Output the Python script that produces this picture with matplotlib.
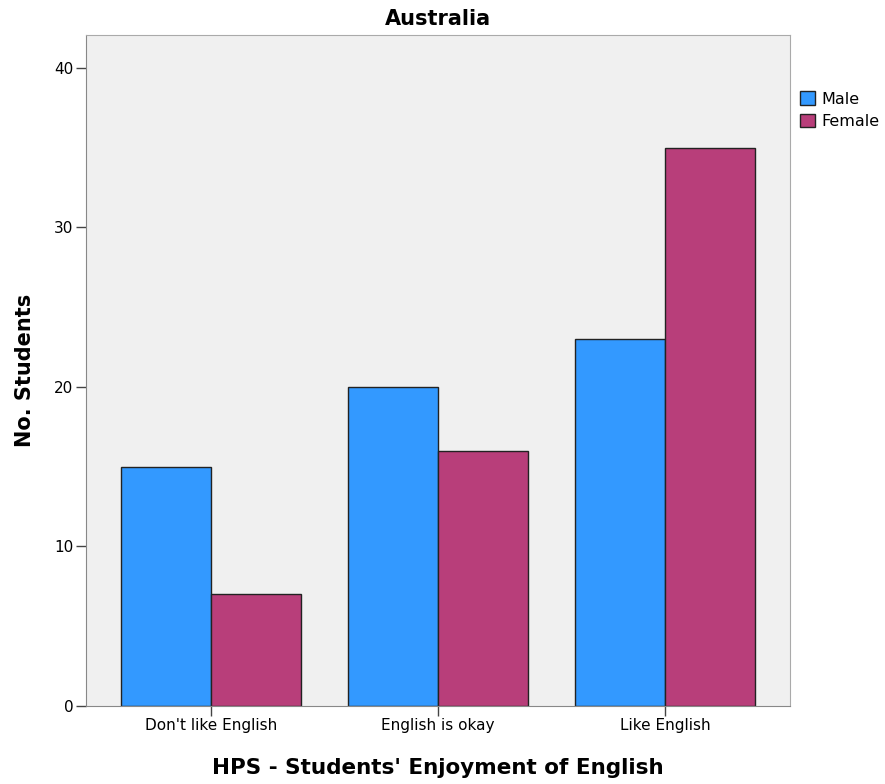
import numpy as np
import matplotlib
matplotlib.use('Agg')
import matplotlib.pyplot as plt

plt.rcParams['font.family'] = ['DejaVu Sans']

# Data
categories = ["Don't like English", "English is okay", "Like English"]
male = [15, 20, 23]
female = [7, 16, 35]
series_names = ['Male', 'Female']

blue = '#3399ff'
plum = '#b83e7a'
edge = '#222222'

fig = plt.figure(figsize=(8.85, 7.84), dpi=100)
ax = fig.add_axes([0.0972, 0.0995, 0.7955, 0.8559])
ax.set_facecolor('#f0f0f0')

x = np.arange(len(categories))
w = 0.395
ax.bar(x - w / 2, male, w, color=blue, edgecolor=edge, linewidth=1.0, label=series_names[0])
ax.bar(x + w / 2, female, w, color=plum, edgecolor=edge, linewidth=1.0, label=series_names[1])

ax.set_xlim(-0.55, 2.55)
ax.set_ylim(0, 42.07)
ax.set_yticks([0, 10, 20, 30, 40])
ax.set_xticks(x)
ax.set_xticklabels(categories)
ax.tick_params(axis='both', labelsize=11, length=7, color='#444444', width=1, pad=2)

for s in ['top', 'right']:
    ax.spines[s].set_color('#aaaaaa')
for s in ['left', 'bottom']:
    ax.spines[s].set_color('#888888')

ax.set_title('Australia', fontsize=15, fontweight='bold', pad=7)
ax.set_ylabel('No. Students', fontsize=15, fontweight='bold', labelpad=14)
ax.set_xlabel("HPS - Students' Enjoyment of English", fontsize=15.5, fontweight='bold', labelpad=18)

ax.legend(loc='upper left', bbox_to_anchor=(1.014, 0.916), frameon=False, fontsize=11.5,
          handlelength=0.92, handleheight=0.92, handletextpad=0.4, labelspacing=0.45,
          borderaxespad=0, borderpad=0)

fig.savefig('out.png', dpi=100)
